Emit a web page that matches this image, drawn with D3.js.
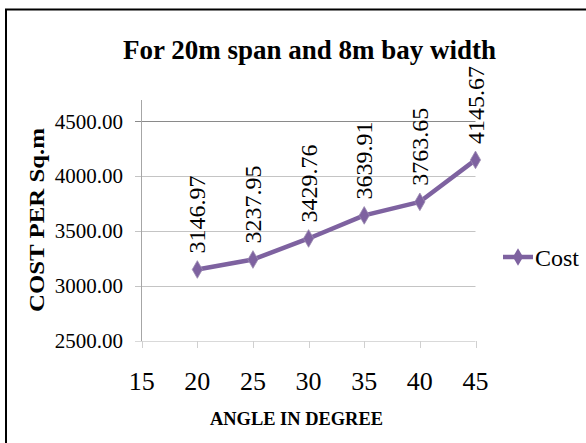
<!DOCTYPE html>
<html><head><meta charset="utf-8">
<script src="https://cdn.jsdelivr.net/npm/d3@7"></script>
<style>body{margin:0;background:#fff}svg{display:block}text{font-family:"Liberation Serif","Times New Roman",serif}</style>
</head><body>
<script>
const angles = [20, 25, 30, 35, 40, 45];
const costs = [3146.97, 3237.95, 3429.76, 3639.91, 3763.65, 4145.67];
const xTicks = [15, 20, 25, 30, 35, 40, 45];
const yTicks = [2500, 3000, 3500, 4000, 4500];
const seriesName = "Cost";
const titleText = "For 20m span and 8m bay width";
const xTitle = "ANGLE IN DEGREE";
const yTitle = "COST PER Sq.m";

const W = 586, H = 443;
const purple = "#7e62a0";
const svg = d3.select("body").append("svg").attr("width", W).attr("height", H);
svg.append("rect").attr("width", W).attr("height", H).attr("fill", "#fff");

// border
svg.append("path").attr("d", "M6,443 L6,9.5 L586,9.5").attr("fill", "none").attr("stroke", "#000").attr("stroke-width", 2);

const x = d3.scaleLinear().domain([15, 45]).range([141.7, 475.5]);
const y = d3.scaleLinear().domain([2500, 4500]).range([340.5, 121]);

// gridlines
svg.append("g").selectAll("line").data(yTicks).join("line")
  .attr("x1", 135).attr("x2", x(45))
  .attr("y1", d => Math.round(y(d)) + 0.5).attr("y2", d => Math.round(y(d)) + 0.5)
  .attr("stroke", d => d === 4500 ? "#8a8a8a" : (d === 2500 ? "#d9d9d9" : "#c4c4c4")).attr("stroke-width", 1);

// y axis line
svg.append("line").attr("x1", 141.5).attr("x2", 141.5).attr("y1", 100).attr("y2", 341)
  .attr("stroke", "#a6a6a6").attr("stroke-width", 1);

// x ticks
svg.append("g").selectAll("line").data(xTicks).join("line")
  .attr("x1", d => Math.round(x(d)) + 0.5).attr("x2", d => Math.round(x(d)) + 0.5)
  .attr("y1", 341).attr("y2", 348)
  .attr("stroke", "#d0d0d0").attr("stroke-width", 1);

// y tick labels
svg.append("g").selectAll("text").data(yTicks).join("text")
  .attr("x", 123).attr("y", d => y(d) + 7.5)
  .attr("text-anchor", "end").style("font-size", "21px")
  .attr("fill", "#000").text(d => d3.format(".2f")(d));

// x tick labels
svg.append("g").selectAll("text").data(xTicks).join("text")
  .attr("x", d => x(d)).attr("y", 390)
  .attr("text-anchor", "middle").style("font-size", "26px")
  .attr("fill", "#000").text(d => d);

// title
svg.append("text").attr("x", 309.5).attr("y", 58.5).attr("text-anchor", "middle")
  .style("font-weight", "bold").style("font-size", "27px")
  .attr("fill", "#000").text(titleText);

// axis titles
svg.append("text").attr("x", 296.5).attr("y", 425).attr("text-anchor", "middle")
  .style("font-weight", "bold").style("font-size", "19px")
  .attr("textLength", 173).attr("lengthAdjust", "spacingAndGlyphs")
  .attr("fill", "#000").text(xTitle);

svg.append("text").attr("transform", "translate(44,220) rotate(-90)").attr("text-anchor", "middle")
  .style("font-weight", "bold").style("font-size", "21px")
  .attr("textLength", 184).attr("lengthAdjust", "spacingAndGlyphs")
  .attr("fill", "#000").text(yTitle);

// line
const pts = angles.map((a, i) => [a, costs[i]]);
const line = d3.line().x(d => x(d[0])).y(d => y(d[1]));
svg.append("path").datum(pts).attr("d", line).attr("fill", "none")
  .attr("stroke", purple).attr("stroke-width", 4.5).attr("stroke-linejoin", "round");

const diamond = d3.symbol().type(d3.symbolDiamond).size(90);
svg.append("g").selectAll("path").data(pts).join("path")
  .attr("transform", d => `translate(${x(d[0])},${y(d[1])})`)
  .attr("d", diamond).attr("fill", purple).attr("stroke", "#9b8bb0").attr("stroke-width", 0.8);

// data labels
svg.append("g").selectAll("text").data(pts).join("text")
  .attr("transform", d => `translate(${x(d[0]) + 8},${y(d[1]) - 16}) rotate(-90)`)
  .attr("text-anchor", "start").style("font-size", "24px")
  .attr("fill", "#000").text(d => d[1].toFixed(2));

// legend
svg.append("line").attr("x1", 503).attr("x2", 533).attr("y1", 257).attr("y2", 257)
  .attr("stroke", purple).attr("stroke-width", 4.5);
svg.append("path").attr("transform", "translate(518,257)").attr("d", diamond).attr("fill", purple);
svg.append("text").attr("x", 535).attr("y", 266).style("font-size", "24px")
  .attr("fill", "#000").text(seriesName);
</script>
</body></html>
